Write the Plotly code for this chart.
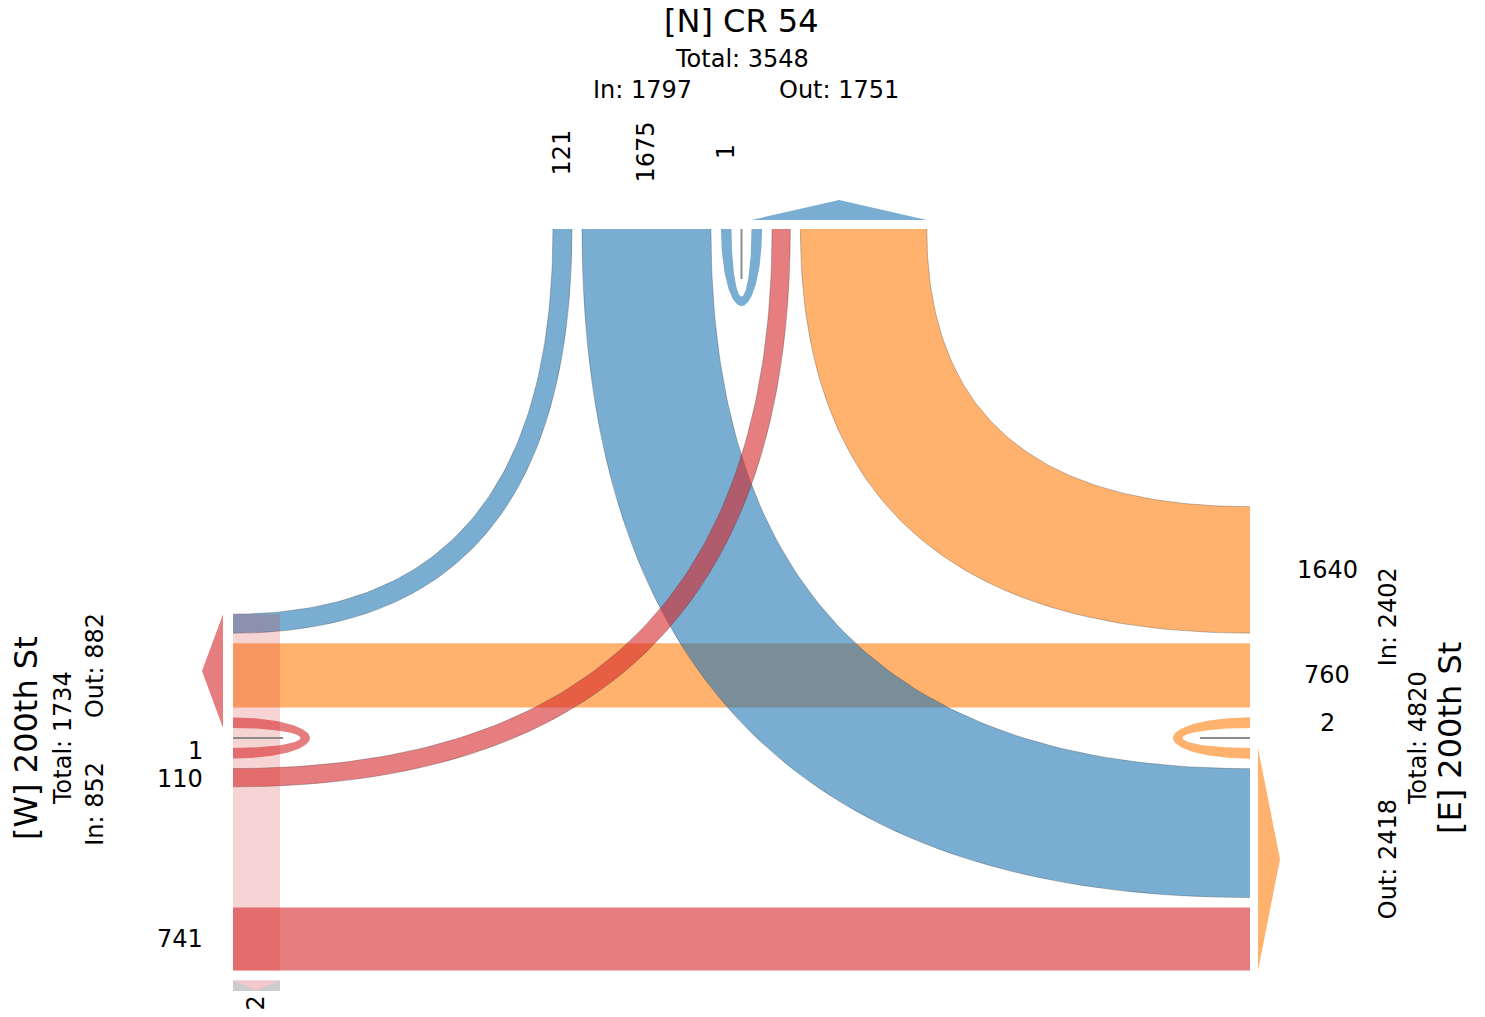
import numpy as np
import plotly.graph_objects as go

# ---------------- data ----------------
LEGS = ["N", "E", "W"]
LEG_TITLES = ["[N] CR 54", "[E] 200th St", "[W] 200th St"]
LEG_COLORS = ["rgba(31,119,180,0.6)", "rgba(255,127,14,0.6)", "rgba(214,39,40,0.6)"]

ORIGINS = ["N", "N", "N", "E", "E", "E", "W", "W", "W"]
DESTINATIONS = ["W", "E", "N", "N", "W", "E", "N", "E", "W"]
VOLUMES = [121, 1675, 1, 1640, 760, 2, 110, 741, 1]

CROSSING_LEG = "W"
CROSSING_VOLUME = 2

# lane order from the road centre outward
IN_ORDER = {"N": ["N", "E", "W"], "E": ["E", "W", "N"], "W": ["W", "N", "E"]}   # by destination
OUT_ORDER = {"N": ["N", "W", "E"], "E": ["E", "N", "W"], "W": ["W", "E", "N"]}  # by origin

# ---------------- geometry ----------------
W_EDGE, E_EDGE, N_EDGE = 233.0, 1250.0, 229.0
CX = (W_EDGE + E_EDGE) / 2
CY = 738.0
GAP, HALF = 10.0, 10.0
U_DEPTH_OUT, U_DEPTH_IN = 77.0, 67.5


def width(v):
    return 10.5 + 0.0707 * v


color = dict(zip(LEGS, LEG_COLORS))
title = dict(zip(LEGS, LEG_TITLES))
vol = {(o, d): v for o, d, v in zip(ORIGINS, DESTINATIONS, VOLUMES)}
center = {"N": CX, "E": CY, "W": CY}
in_sign = {"N": -1, "E": -1, "W": 1}


def pack(leg, keys, sign, inbound):
    pos = center[leg] + sign * HALF
    res = {}
    for k in keys:
        key = (leg, k) if inbound else (k, leg)
        if key not in vol:
            continue
        w = width(vol[key])
        a, b = pos, pos + sign * w
        res[k] = (min(a, b), max(a, b))
        pos = b + sign * GAP
    return res


in_iv = {L: pack(L, IN_ORDER[L], in_sign[L], True) for L in LEGS}
out_iv = {L: pack(L, OUT_ORDER[L], -in_sign[L], False) for L in LEGS}


def drawn_interval(o, d):
    # straight movements are drawn at the receiving lane position
    if {o, d} == {"E", "W"}:
        return out_iv[d][o]
    return in_iv[o][d]


def qbez(p0, c, p2, n=90):
    t = np.linspace(0, 1, n)[:, None]
    p0, c, p2 = map(np.array, (p0, c, p2))
    return (1 - t) ** 2 * p0 + 2 * t * (1 - t) * c + t ** 2 * p2


fig = go.Figure()


def poly(xs, ys, fill, line=None):
    fig.add_trace(go.Scatter(x=list(xs), y=list(ys), mode="lines", fill="toself",
                             fillcolor=fill, line=line or dict(width=0, color="rgba(0,0,0,0)"),
                             hoverinfo="skip", showlegend=False))


def edge_line(pts):
    fig.add_trace(go.Scatter(x=pts[:, 0], y=pts[:, 1], mode="lines",
                             line=dict(width=0.7, color="rgba(60,60,60,0.45)"),
                             hoverinfo="skip", showlegend=False))


def side_x(L):
    return W_EDGE if L == "W" else E_EDGE


def draw_turn(o, d):
    side = d if o == "N" else o
    n_iv = in_iv["N"][d] if o == "N" else out_iv["N"][o]
    s_iv = out_iv[d]["N"] if o == "N" else in_iv[o]["N"]
    xlo, xhi = n_iv
    ylo, yhi = s_iv
    sx = side_x(side)
    if side == "W":
        pairs = [(xlo, ylo), (xhi, yhi)]
    else:
        pairs = [(xhi, ylo), (xlo, yhi)]
    e1 = qbez((pairs[0][0], N_EDGE), (pairs[0][0], pairs[0][1]), (sx, pairs[0][1]))
    e2 = qbez((pairs[1][0], N_EDGE), (pairs[1][0], pairs[1][1]), (sx, pairs[1][1]))
    pts = np.vstack([e1, e2[::-1]])
    poly(pts[:, 0], pts[:, 1], color[o])
    edge_line(e1)
    edge_line(e2)


def draw_straight(o, d):
    lo, hi = drawn_interval(o, d)
    poly([W_EDGE, E_EDGE, E_EDGE, W_EDGE], [lo, lo, hi, hi], color[o])


def to_xy(L, u, dd):
    if L == "N":
        return CX + u, N_EDGE + dd
    if L == "W":
        return W_EDGE + dd, CY + u
    return E_EDGE - dd, CY + u


def draw_uturn(L):
    w = width(vol[(L, L)])
    th = np.linspace(-np.pi / 2, np.pi / 2, 90)
    uo, do = (HALF + w) * np.sin(th), U_DEPTH_OUT * np.cos(th)
    ui, di = HALF * np.sin(th[::-1]), U_DEPTH_IN * np.cos(th[::-1])
    u = np.concatenate([uo, ui])
    dd = np.concatenate([do, di])
    x, y = to_xy(L, u, dd)
    poly(x, y, color[L])


# draw order: E flows, N flows, W flows
for leg in ["E", "N", "W"]:
    for o, d in zip(ORIGINS, DESTINATIONS):
        if o != leg:
            continue
        if o == d:
            draw_uturn(o)
        elif "N" in (o, d):
            draw_turn(o, d)
        else:
            draw_straight(o, d)


# crossing band on the W leg: spans every lane drawn at the W edge
def w_side_interval(o, d):
    if d == "W":
        return drawn_interval(o, d) if {o, d} == {"E", "W"} else out_iv["W"][o]
    return drawn_interval(o, d)


w_ivs = [w_side_interval(o, d) for (o, d) in vol if "W" in (o, d) and o != d] + \
        [in_iv["W"]["W"], out_iv["W"]["W"]]
band_lo = min(a for a, b in w_ivs)
band_hi = max(b for a, b in w_ivs)
BAND_W = 47
poly([W_EDGE, W_EDGE + BAND_W, W_EDGE + BAND_W, W_EDGE],
     [band_lo, band_lo, band_hi, band_hi], "rgba(214,39,40,0.2)")
box_lo = band_hi + GAP
box_hi = box_lo + width(CROSSING_VOLUME)
poly([W_EDGE, W_EDGE + BAND_W, W_EDGE + BAND_W, W_EDGE],
     [box_lo, box_lo, box_hi, box_hi], "rgba(127,127,127,0.4)")
poly([W_EDGE, W_EDGE + BAND_W, W_EDGE + BAND_W / 2],
     [box_lo, box_lo, box_hi - 1], "rgba(248,200,205,0.9)")

# U-turn centre lines
for L in LEGS:
    if (L, L) in vol:
        x0, y0 = to_xy(L, 0, 0)
        x1, y1 = to_xy(L, 0, 50)
        fig.add_trace(go.Scatter(x=[x0, x1], y=[y0, y1], mode="lines",
                                 line=dict(width=2, color="rgba(140,140,140,1)"),
                                 hoverinfo="skip", showlegend=False))

# outbound arrows
for L in LEGS:
    ivs = list(out_iv[L].values())
    lo = min(a for a, b in ivs)
    hi = max(b for a, b in ivs)
    if L == "N":
        xs, ys = [lo, hi, (lo + hi) / 2], [N_EDGE - 9, N_EDGE - 9, N_EDGE - 29]
    elif L == "W":
        xs, ys = [W_EDGE - 10, W_EDGE - 10, W_EDGE - 31], [lo, hi, (lo + hi) / 2]
    else:
        xs, ys = [E_EDGE + 8, E_EDGE + 8, E_EDGE + 30], [lo, hi, (lo + hi) / 2]
    poly(xs, ys, color[L])

# ---------------- text ----------------
FONT = "DejaVu Sans"


def txt(x, y, s, size=24, angle=0, xanchor="center"):
    fig.add_annotation(x=x, y=y, text=s, showarrow=False, textangle=angle,
                       xanchor=xanchor, yanchor="middle", borderpad=0,
                       font=dict(family=FONT, size=size, color="black"))


tot_in = {L: sum(v for (o, d), v in vol.items() if o == L) for L in LEGS}
tot_out = {L: sum(v for (o, d), v in vol.items() if d == L) for L in LEGS}


def section_center(ivs):
    return (min(a for a, b in ivs) + max(b for a, b in ivs)) / 2


# N leg
txt(CX, 21, title["N"], size=32)
txt(CX, 59, f"Total: {tot_in['N'] + tot_out['N']}")
txt(section_center(in_iv["N"].values()), 90, f"In: {tot_in['N']}")
txt(section_center(out_iv["N"].values()), 90, f"Out: {tot_out['N']}")
for d, (a, b) in in_iv["N"].items():
    txt((a + b) / 2, 152, str(vol[("N", d)]), angle=-90)

# E leg
txt(1450, CY, title["E"], size=32, angle=-90)
txt(1418, CY, f"Total: {tot_in['E'] + tot_out['E']}", angle=-90)
txt(1388, section_center(in_iv["E"].values()), f"In: {tot_in['E']}", angle=-90)
txt(1388, section_center(out_iv["E"].values()), f"Out: {tot_out['E']}", angle=-90)
for d, (a, b) in in_iv["E"].items():
    txt(1327, (a + b) / 2, str(vol[("E", d)]))

# W leg
txt(26, CY, title["W"], size=32, angle=-90)
txt(63, CY, f"Total: {tot_in['W'] + tot_out['W']}", angle=-90)
txt(95, section_center(in_iv["W"].values()), f"In: {tot_in['W']}", angle=-90)
txt(95, section_center(out_iv["W"].values()) - 5, f"Out: {tot_out['W']}", angle=-90)
W_LABEL_NUDGE = {"W": -2, "N": 1, "E": 0}
for d in in_iv["W"]:
    a, b = drawn_interval("W", d) if d != "W" else in_iv["W"]["W"]
    txt(204, (a + b) / 2 + W_LABEL_NUDGE[d], str(vol[("W", d)]), xanchor="right")
txt(W_EDGE + BAND_W / 2, box_hi + 12, str(CROSSING_VOLUME), angle=-90)

FIG_W, FIG_H = 1485, 1017
fig.update_layout(
    width=FIG_W, height=FIG_H, autosize=False,
    margin=dict(l=0, r=0, t=0, b=0, pad=0),
    paper_bgcolor="white", plot_bgcolor="white",
    xaxis=dict(range=[0, FIG_W], visible=False, fixedrange=True),
    yaxis=dict(range=[FIG_H, 0], visible=False, fixedrange=True),
    showlegend=False,
)
fig.write_html("out.html",
               config={"displayModeBar": False, "staticPlot": True},
               post_script="document.body.style.margin='0';document.body.style.overflow='hidden';")
